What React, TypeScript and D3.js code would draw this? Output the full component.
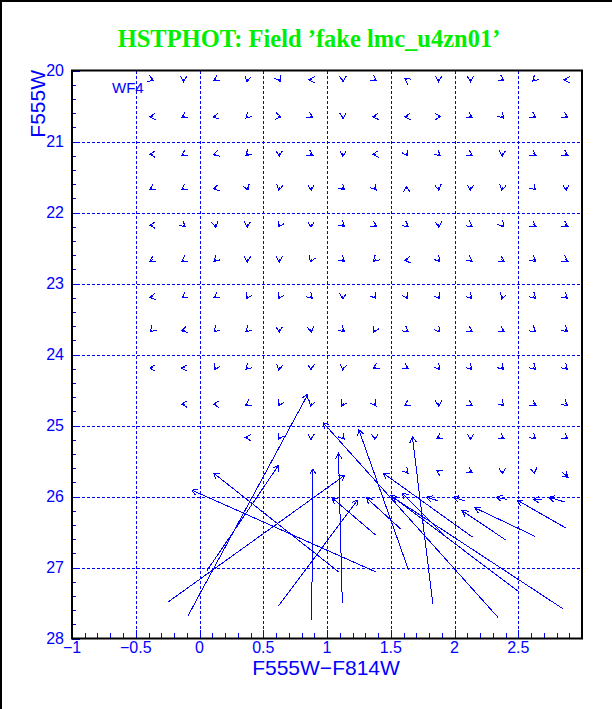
import React from 'react';
import * as d3 from 'd3';

const W = 612;
const H = 709;

// axis ticks
const xTicks = [-1, -0.5, 0, 0.5, 1, 1.5, 2, 2.5];
const yTicks = [20, 21, 22, 23, 24, 25, 26, 27, 28];

// input grid of fake stars (colour columns, magnitude rows)
const colColors = [-0.375, -0.125, 0.125, 0.375, 0.625, 0.875, 1.125, 1.375, 1.625, 1.875, 2.125, 2.375, 2.625, 2.875];
const rowMags = [20.13, 20.65, 21.18, 21.66, 22.18, 22.67, 23.19, 23.66, 24.19, 24.70, 25.17, 25.65];

// direction of the small shifts, degrees on screen (0 = redder, 90 = fainter); null = not recovered
const shiftDir: (number | null)[][] = [
  [20, 90, 150, 100, 60, 180, 90, 30, 215, 90, 90, 30, 135, 180],
  [180, 150, 170, 135, 10, 30, 90, 175, 180, 0, 30, 45, 30, 30],
  [180, 150, 160, 135, 90, 30, 90, 175, 60, 40, 30, 90, 30, 30],
  [150, 145, 170, 70, 100, 90, 45, 50, 270, 80, 90, 100, 45, 90],
  [180, 40, 80, 90, 120, 90, 45, 30, 35, 90, 35, 55, 30, 30],
  [150, 150, 135, 90, 90, 115, 40, 135, 175, 50, 35, 30, 35, 30],
  [175, 150, 150, 120, 120, 45, 90, 55, 60, 55, 45, 110, 45, 40],
  [135, 165, 135, 140, 90, 80, 40, 115, 35, 50, 30, 30, 35, 40],
  [180, 180, 120, 135, 100, 90, 100, 150, 30, 50, 45, 45, 45, 45],
  [null, 180, 180, 150, 120, 110, 120, 55, 150, 90, 30, 45, 30, 35],
  [null, null, null, 180, 120, 90, 50, 90, null, 150, 90, 30, 40, 35],
  [null, null, null, null, null, null, null, null, 50, 210, 30, 90, 80, null],
];

// large shifts: [colour in, mag in, colour out, mag out]
const bigShifts: number[][] = [
  [-0.09, 27.68, 0.85, 24.56],
  [0.06, 27.04, 0.62, 25.56],
  [-0.25, 27.49, 1.14, 25.7],
  [0.62, 27.54, 1.24, 26.05],
  [0.88, 27.74, 0.89, 25.61],
  [1.12, 27.5, 1.09, 25.39],
  [1.09, 27.06, 0.11, 25.67],
  [1.38, 27.06, -0.06, 25.91],
  [2.34, 27.7, 0.97, 24.96],
  [2.85, 27.58, 1.5, 25.99],
  [2.51, 27.35, 1.52, 26.01],
  [1.83, 27.51, 1.67, 25.16],
  [1.64, 27.04, 1.25, 25.06],
  [2.14, 26.57, 1.44, 25.67],
  [2.4, 26.61, 2.06, 26.2],
  [2.63, 26.56, 2.16, 26.16],
  [2.87, 26.44, 2.49, 26.05],
  [1.38, 26.54, 1.04, 26.02],
  [1.58, 26.46, 1.31, 26.02],
  [1.94, 26.58, 1.59, 25.95],
  [1.87, 26.06, 1.78, 26.01],
  [2.08, 26.06, 1.99, 26.01],
  [2.41, 26.04, 2.33, 26.01],
  [2.69, 26.05, 2.62, 26.04],
  [2.87, 26.08, 2.74, 26.01],
  [2.84, 25.65, 2.89, 25.73],
];

const BLUE = '#0000ff';

function arrowPath(x0: number, y0: number, x1: number, y1: number) {
  const a = Math.atan2(y1 - y0, x1 - x0);
  const len = 6.5;
  const h = Math.PI / 6;
  const b1 = [x1 - len * Math.cos(a - h), y1 - len * Math.sin(a - h)];
  const b2 = [x1 - len * Math.cos(a + h), y1 - len * Math.sin(a + h)];
  return `M${x0},${y0}L${x1},${y1}M${b1[0]},${b1[1]}L${x1},${y1}L${b2[0]},${b2[1]}`;
}

export default function App() {
  const x = d3.scaleLinear().domain([-1, 3]).range([72, 582]);
  const y = d3.scaleLinear().domain([20, 28]).range([70.5, 638.5]);

  const minorX = d3.range(-1, 3.001, 0.1);
  const minorY = d3.range(20, 28.001, 0.2);
  const gridX = d3.range(-0.5, 2.51, 0.5);
  const gridY = d3.range(21, 27.1, 1);

  const small: string[] = [];
  shiftDir.forEach((row, ri) => {
    row.forEach((d, ci) => {
      if (d === null) return;
      const a = (d * Math.PI) / 180;
      const gx = x(colColors[ci]);
      const gy = y(rowMags[ri]);
      small.push(arrowPath(gx - Math.cos(a), gy - Math.sin(a), gx + 2 * Math.cos(a), gy + 2 * Math.sin(a)));
    });
  });

  const font = "'Liberation Sans', Arial, sans-serif";

  return (
    <div style={{ position: 'absolute', left: 0, top: 0 }}>
      <svg width={W} height={H} style={{ display: 'block', background: '#fff' }}>
        <line x1={0} y1={1} x2={W} y2={1} stroke="#000" strokeWidth={2} />
        <line x1={1} y1={0} x2={1} y2={H} stroke="#000" strokeWidth={2} />

        <text x={309} y={47} textAnchor="middle" fill="#00ee00" fontFamily="'Liberation Serif', 'Times New Roman', serif" fontWeight="bold" fontSize={24.5}>
          HSTPHOT: Field ’fake lmc_u4zn01’
        </text>

        {/* grid */}
        <g stroke={BLUE} strokeWidth={1} strokeDasharray="3,2" shapeRendering="crispEdges">
          {gridX.map((v) => (
            <line key={'gx' + v} x1={Math.round(x(v)) + 0.5} x2={Math.round(x(v)) + 0.5} y1={y(20)} y2={y(28)} />
          ))}
          {gridY.map((v) => (
            <line key={'gy' + v} x1={x(-1)} x2={x(3)} y1={Math.round(y(v)) + 0.5} y2={Math.round(y(v)) + 0.5} />
          ))}
        </g>

        {/* ticks */}
        <g stroke={BLUE} strokeWidth={1} shapeRendering="crispEdges">
          {minorX.map((v, i) => (
            <line key={'tx' + i} x1={Math.round(x(v)) + 0.5} x2={Math.round(x(v)) + 0.5} y1={y(28)} y2={y(28) - (i % 5 === 0 ? 9 : 6)} />
          ))}
          {minorY.map((v, i) => (
            <line key={'ty' + i} x1={x(-1)} x2={x(-1) + (i % 5 === 0 ? 8 : 4)} y1={Math.round(y(v)) + 0.5} y2={Math.round(y(v)) + 0.5} />
          ))}
        </g>

        {/* frame */}
        <rect x={x(-1)} y={y(20)} width={x(3) - x(-1)} height={y(28) - y(20)} fill="none" stroke="#000" strokeWidth={2} />

        {/* tick labels */}
        <g fill={BLUE} fontFamily={font} fontSize={16}>
          {xTicks.map((v) => (
            <text key={'lx' + v} x={x(v)} y={653} textAnchor="middle">
              {v < 0 ? '\u2212' + Math.abs(v) : String(v)}
            </text>
          ))}
          {yTicks.map((v) => (
            <text key={'ly' + v} x={64} y={y(v)} textAnchor="end" dominantBaseline="central">
              {v}
            </text>
          ))}
        </g>

        <text x={326} y={675} textAnchor="middle" fill={BLUE} fontFamily={font} fontSize={21}>
          F555W{'\u2212'}F814W
        </text>
        <text transform="translate(45,70) rotate(-90)" textAnchor="end" fill={BLUE} fontFamily={font} fontSize={21}>
          F555W
        </text>
        <text x={112} y={93} fill={BLUE} fontFamily={font} fontSize={15}>
          WF4
        </text>

        {/* shift arrows */}
        <g fill="none" stroke={BLUE} strokeWidth={1} shapeRendering="crispEdges">
          {small.map((d, i) => (
            <path key={'s' + i} d={d} />
          ))}
          {bigShifts.map((s, i) => (
            <path key={'b' + i} d={arrowPath(x(s[0]), y(s[1]), x(s[2]), y(s[3]))} />
          ))}
        </g>
      </svg>
    </div>
  );
}
